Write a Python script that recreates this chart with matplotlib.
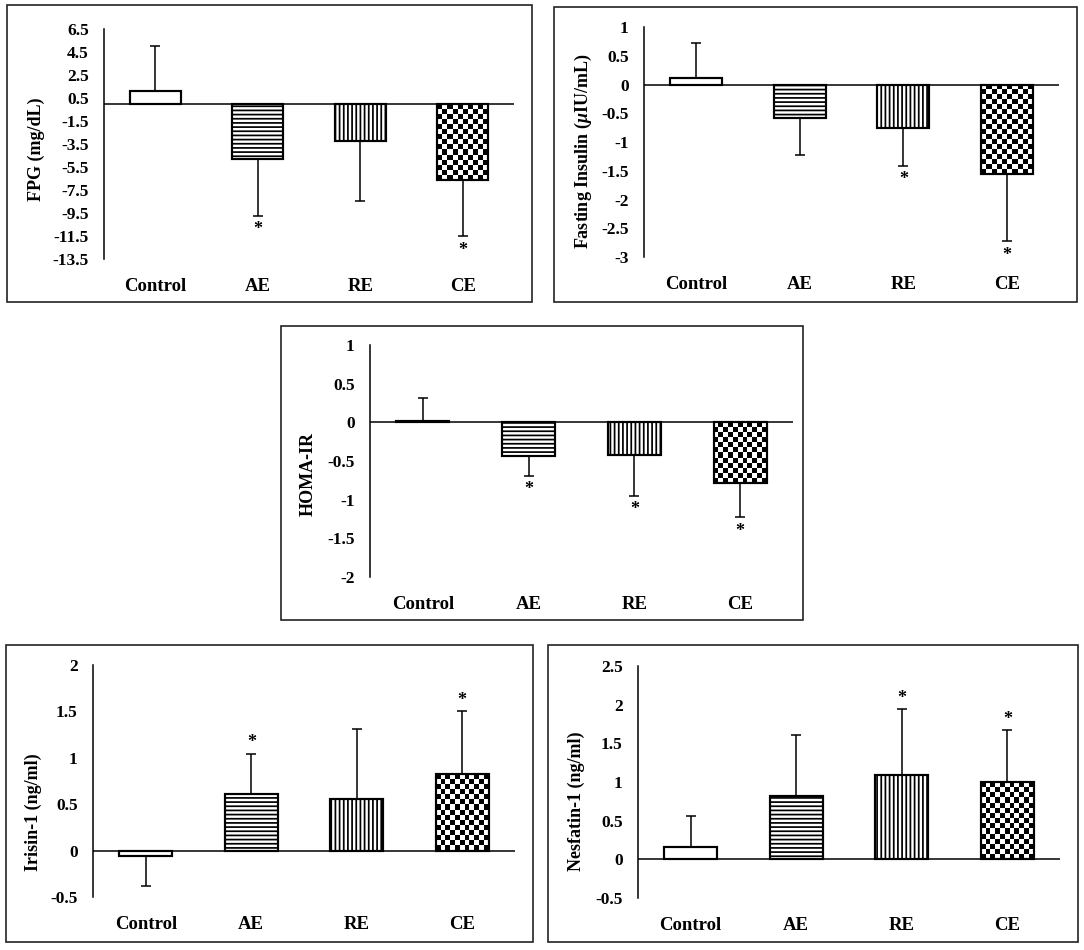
import matplotlib
matplotlib.use("Agg")
from matplotlib import pyplot as plt
from matplotlib.patches import Rectangle
from matplotlib.collections import PatchCollection
import numpy as np

plt.rcParams['font.family'] = ['Liberation Serif', 'DejaVu Serif']
plt.rcParams['font.weight'] = 'bold'
plt.rcParams['hatch.linewidth'] = 1.25
plt.rcParams['mathtext.fontset'] = 'custom'
plt.rcParams['mathtext.it'] = 'Liberation Serif:italic:bold'
plt.rcParams['mathtext.rm'] = 'Liberation Serif:bold'

groups = ["Control", "AE", "RE", "CE"]

fpg_mean = [1.08, -4.83, -3.21, -6.63]
fpg_sd = [3.92, 4.90, 5.28, 4.90]
fpg_sig = [False, True, False, True]

ins_mean = [0.11, -0.59, -0.75, -1.56]
ins_sd = [0.62, 0.63, 0.66, 1.17]
ins_sig = [False, False, True, True]

homa_mean = [0.02, -0.43, -0.42, -0.78]
homa_sd = [0.30, 0.26, 0.53, 0.45]
homa_sig = [False, True, True, True]

irisin_mean = [-0.06, 0.61, 0.56, 0.83]
irisin_sd = [0.32, 0.43, 0.75, 0.67]
irisin_sig = [False, True, False, True]

nesf_mean = [0.155, 0.82, 1.09, 1.00]
nesf_sd = [0.405, 0.79, 0.85, 0.67]
nesf_sig = [False, False, True, True]

W, H = 1084, 950
fig = plt.figure(figsize=(W / 100, H / 100), dpi=100)


def px_axes(x0, y0, x1, y1):
    return fig.add_axes([x0 / W, 1 - y1 / H, (x1 - x0) / W, (y1 - y0) / H])


def px_box(x0, y0, x1, y1):
    fig.patches.append(Rectangle((x0 / W, 1 - y1 / H), (x1 - x0) / W, (y1 - y0) / H,
                                 transform=fig.transFigure, fill=False,
                                 edgecolor='#222222', linewidth=1.2))


def checker(ax, bar, size=5.0):
    # checkerboard fill made of small black squares clipped to the bar
    x0, y0 = bar.get_x(), bar.get_y()
    x1, y1 = x0 + bar.get_width(), y0 + bar.get_height()
    lo, hi = min(y0, y1), max(y0, y1)
    p0 = ax.transData.transform((x0, lo))
    p1 = ax.transData.transform((x1, hi))
    nc = max(1, int(round((p1[0] - p0[0]) / size)))
    nr = max(1, int(round((p1[1] - p0[1]) / size)))
    dx = (x1 - x0) / nc
    dy = (hi - lo) / nr
    sq = []
    for r in range(nr):
        for c in range(nc):
            if (r + c) % 2 == 0:
                sq.append(Rectangle((x0 + c * dx, lo + r * dy), dx, dy))
    pc = PatchCollection(sq, facecolor='black', edgecolor='none', zorder=2.5)
    ax.add_collection(pc)
    pc.set_clip_path(bar)


def panel(axpx, boxpx, mean, sd, sig, ylim, step, ylabel, labpx):
    px_box(*boxpx)
    ax = px_axes(*axpx)
    x = np.arange(len(groups))
    ax.set_xlim(-0.5, 3.5)
    ax.set_ylim(*ylim)
    mean = np.array(mean)
    sd = np.array(sd)
    bars = ax.bar(x, mean, width=0.5, color='white', edgecolor='black',
                  linewidth=1.5, zorder=2)
    bars[1].set_hatch('----')
    bars[2].set_hatch('||||')
    checker(ax, bars[3])
    ax.bar(x, mean, width=0.5, fill=False, edgecolor='black', linewidth=1.5, zorder=3)
    lower = np.where(mean < 0, sd, 0)
    upper = np.where(mean >= 0, sd, 0)
    ax.errorbar(x, mean, yerr=[lower, upper], fmt='none', ecolor='black',
                elinewidth=1.1, capsize=3.5, capthick=1.1, zorder=4)
    for i in range(len(groups)):
        if sig[i]:
            if mean[i] < 0:
                ax.annotate('*', (x[i], mean[i] - sd[i]), xytext=(0, -10),
                            textcoords='offset points', ha='center', va='center',
                            fontsize=13, fontweight='bold')
            else:
                ax.annotate('*', (x[i], mean[i] + sd[i]), xytext=(0, 8),
                            textcoords='offset points', ha='center', va='center',
                            fontsize=13, fontweight='bold')
    ax.axhline(0, color='black', linewidth=1.1, zorder=5)
    ticks = np.arange(ylim[0], ylim[1] + step / 2, step)
    ax.set_yticks(ticks)
    ax.set_yticklabels(['%g' % round(t, 2) for t in ticks])
    ax.set_xticks(x)
    ax.set_xticklabels(groups)
    ax.tick_params(axis='y', length=0, pad=11, labelsize=12.5)
    ax.tick_params(axis='x', length=0, pad=14, labelsize=13.5)
    for s in ['top', 'right', 'bottom']:
        ax.spines[s].set_visible(False)
    ax.spines['left'].set_linewidth(1.1)
    ax.patch.set_alpha(0)
    fig.text(labpx[0] / W, 1 - labpx[1] / H, ylabel, rotation=90, ha='center',
             va='center', fontsize=13, fontweight='bold')
    return ax


panel((104, 29, 514, 259), (7, 5, 532, 302), fpg_mean, fpg_sd, fpg_sig,
      (-13.5, 6.5), 2, "FPG (mg/dL)", (36, 149))
panel((644, 27, 1059, 257), (554, 7, 1077, 302), ins_mean, ins_sd, ins_sig,
      (-3, 1), 0.5, r"Fasting Insulin ($\mu$IU/mL)", (583, 151))
panel((370, 345, 793, 577), (281, 326, 803, 620), homa_mean, homa_sd, homa_sig,
      (-2, 1), 0.5, "HOMA-IR", (308, 474))
panel((93, 665, 515, 897), (6, 645, 533, 942), irisin_mean, irisin_sd, irisin_sig,
      (-0.5, 2), 0.5, "Irisin-1 (ng/ml)", (33, 812))
panel((638, 666, 1060, 898), (548, 645, 1078, 942), nesf_mean, nesf_sd, nesf_sig,
      (-0.5, 2.5), 0.5, "Nesfatin-1 (ng/ml)", (576, 801))

fig.savefig("out.png", dpi=100)
